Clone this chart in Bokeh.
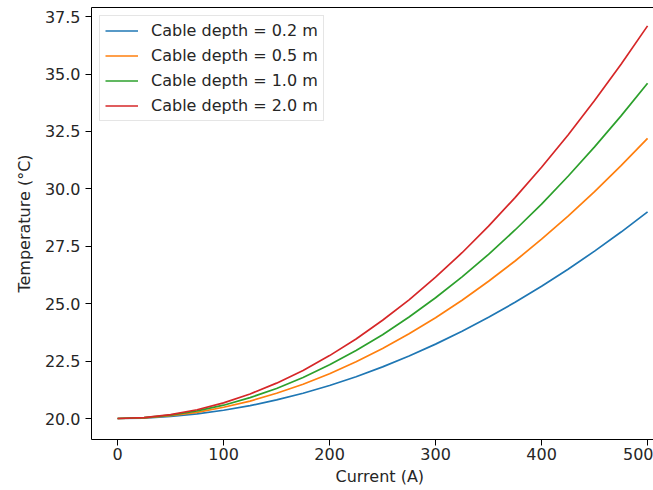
from bokeh.plotting import figure
from bokeh.models import (Range1d, FixedTicker, LinearAxis, Legend, LegendItem,
                          Title, NumeralTickFormatter)
from bokeh.embed import file_html
from bokeh.resources import INLINE

current = [0, 25, 50, 75, 100, 125, 150, 175, 200, 225, 250, 275, 300, 325,
           350, 375, 400, 425, 450, 475, 500]
temp_02 = [20.00, 20.02, 20.09, 20.20, 20.36, 20.56, 20.81, 21.10, 21.44, 21.82,
           22.25, 22.72, 23.24, 23.80, 24.41, 25.06, 25.76, 26.50, 27.29, 28.12, 29.00]
temp_05 = [20.00, 20.03, 20.12, 20.27, 20.49, 20.76, 21.10, 21.49, 21.95, 22.47,
           23.05, 23.69, 24.39, 25.15, 25.98, 26.86, 27.81, 28.81, 29.88, 31.01, 32.20]
temp_10 = [20.00, 20.04, 20.15, 20.33, 20.58, 20.91, 21.31, 21.79, 22.34, 22.96,
           23.65, 24.42, 25.26, 26.17, 27.15, 28.21, 29.34, 30.55, 31.83, 33.18, 34.60]
temp_20 = [20.00, 20.04, 20.17, 20.38, 20.68, 21.07, 21.54, 22.09, 22.74, 23.46,
           24.28, 25.17, 26.16, 27.22, 28.38, 29.62, 30.94, 32.35, 33.85, 35.43, 37.10]
labels = ["Cable depth = 0.2 m", "Cable depth = 0.5 m",
          "Cable depth = 1.0 m", "Cable depth = 2.0 m"]
colors = ["#1f77b4", "#ff7f0e", "#2ca02c", "#d62728"]
x_ticks = [0, 100, 200, 300, 400, 500]
y_ticks = [20.0, 22.5, 25.0, 27.5, 30.0, 32.5, 35.0, 37.5]

FONT = "DejaVu Sans"
FS = "16px"
TXT = "#262626"

p = figure(width=653, height=490, output_backend="svg", toolbar_location=None,
           x_range=Range1d(-24.6, 505.6), y_range=Range1d(19.086, 37.9),
           min_border_left=91, min_border_right=0, min_border_top=7,
           min_border_bottom=51)
p.outline_line_color = None
p.grid.visible = False
p.background_fill_color = "white"
p.border_fill_color = "white"

series = [temp_02, temp_05, temp_10, temp_20]
items = []
for ys, c, lab in zip(series, colors, labels):
    r = p.line(current, ys, line_color=c, line_width=1.7)
    items.append(LegendItem(label=lab, renderers=[r]))

for ax in (p.xaxis[0], p.yaxis[0]):
    ax.axis_line_color = "black"
    ax.axis_line_width = 1
    ax.major_tick_line_color = "black"
    ax.major_tick_out = 6
    ax.major_tick_in = 0
    ax.minor_tick_line_color = None
    ax.major_label_text_font = FONT
    ax.major_label_text_font_size = FS
    ax.major_label_text_color = TXT
    ax.axis_label_text_font = FONT
    ax.axis_label_text_font_size = FS
    ax.axis_label_text_color = TXT
    ax.axis_label_text_font_style = "normal"

p.xaxis[0].ticker = FixedTicker(ticks=x_ticks)
p.xaxis[0].major_label_standoff = 2
p.yaxis[0].ticker = FixedTicker(ticks=y_ticks)
p.yaxis[0].formatter = NumeralTickFormatter(format="0.0")
p.yaxis[0].major_label_standoff = 5
p.yaxis[0].axis_label = "Temperature (°C)"
p.yaxis[0].axis_label_standoff = 8

top = LinearAxis(ticker=FixedTicker(ticks=[]), major_label_text_font_size="0px",
                 major_tick_out=0, major_tick_in=0, minor_tick_out=0,
                 minor_tick_in=0, axis_line_color="black", axis_line_width=1)
p.add_layout(top, "above")

xlabel = Title(text="Current (A)", align="left", offset=244, text_font=FONT,
               text_font_size=FS, text_font_style="normal", text_color=TXT,
               standoff=5)
p.add_layout(xlabel, "below")

legend = Legend(items=items, location="top_left", margin=8, padding=5,
                spacing=6, glyph_width=33, glyph_height=19, label_height=19,
                label_standoff=13, label_text_font=FONT,
                label_text_font_size=FS, label_text_color=TXT,
                border_line_color="#cccccc", border_line_width=1,
                background_fill_color="white", background_fill_alpha=0.8)
p.add_layout(legend, "center")

open("out.html", "w").write(file_html(p, INLINE))
